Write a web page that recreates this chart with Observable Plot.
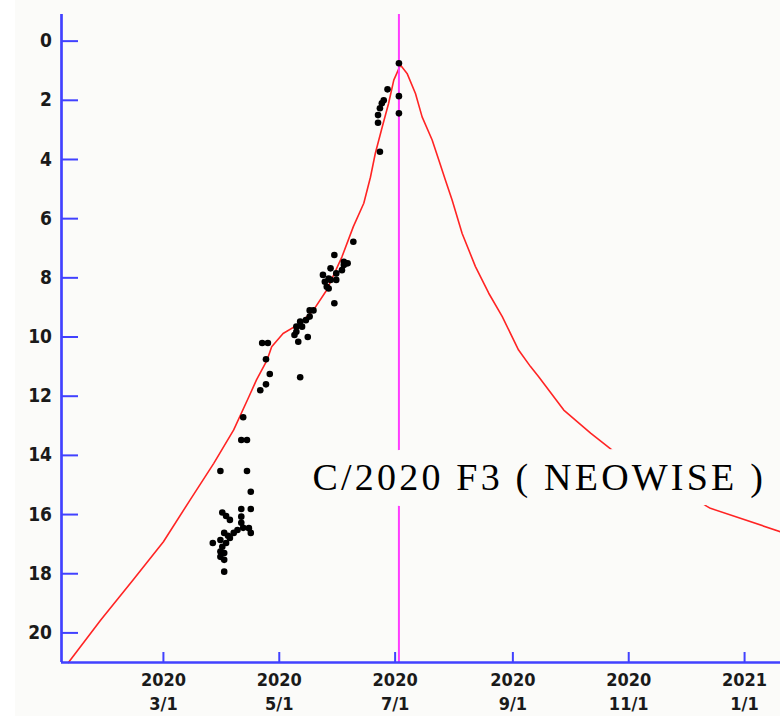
<!DOCTYPE html>
<html>
<head>
<meta charset="utf-8">
<script src="https://cdn.jsdelivr.net/npm/d3@7"></script>
<script src="https://cdn.jsdelivr.net/npm/@observablehq/plot@0.6"></script>
<style>
html, body { margin: 0; padding: 0; background: #ffffff; }
#chart svg { display: block; }
</style>
</head>
<body>
<div id="chart"></div>
<script>
// ---- Data ----
const curveDates = ["2020-01-11","2020-01-28","2020-02-14","2020-03-01","2020-03-15","2020-03-27T12:00Z","2020-04-07","2020-04-15","2020-04-19","2020-04-24T14:00Z","2020-04-27","2020-05-03","2020-05-12","2020-05-19","2020-05-26","2020-06-03","2020-06-09","2020-06-14T12:00Z","2020-06-18","2020-06-20T14:00Z","2020-06-24T05:00Z","2020-06-27T14:00Z","2020-06-30T07:00Z","2020-07-03T19:00Z","2020-07-07T07:00Z","2020-07-11T17:00Z","2020-07-15T05:00Z","2020-07-20T12:00Z","2020-07-24","2020-07-27T12:00Z","2020-07-31","2020-08-05T07:00Z","2020-08-12T07:00Z","2020-08-19T07:00Z","2020-08-26T10:00Z","2020-09-04","2020-09-10T07:00Z","2020-09-14T14:00Z","2020-09-27T19:00Z","2020-10-11T22:00Z","2020-10-23T07:00Z","2020-12-14","2021-01-19T22:00Z"];
const curveMags = [21.0,19.56,18.21,16.92,15.51,14.27,13.14,12.02,11.45,10.78,10.33,9.88,9.54,9.09,8.41,7.29,6.27,5.48,4.6,3.79,2.9,2.1,1.32,0.81,1.09,1.77,2.56,3.34,4.02,4.70,5.37,6.50,7.62,8.52,9.31,10.44,11.0,11.34,12.47,13.25,13.82,15.79,16.58];

const obsDates = [
  "2020-04-01","2020-04-03","2020-04-05","2020-04-11","2020-04-16","2020-04-11","2020-04-11","2020-04-12","2020-04-15","2020-04-16",
  "2020-04-09","2020-04-07","2020-04-04","2020-04-02","2020-03-31","2020-03-27","2020-04-03","2020-04-05","2020-04-01","2020-03-31",
  "2020-04-02","2020-03-31","2020-04-02","2020-04-02","2020-04-16","2020-04-14","2020-03-31","2020-04-11","2020-04-14","2020-04-12",
  "2020-04-22","2020-04-25","2020-04-24","2020-04-26","2020-04-24","2020-04-21","2020-05-12","2020-05-09","2020-05-11","2020-05-16",
  "2020-05-12","2020-05-15","2020-05-10","2020-05-17","2020-05-19","2020-05-30","2020-05-26","2020-05-28","2020-05-24","2020-05-31",
  "2020-05-28","2020-05-30","2020-06-04","2020-06-06","2020-06-03","2020-06-09","2020-05-27","2020-05-31","2020-05-25","2020-05-27",
  "2020-06-04","2020-05-10","2020-05-13","2020-05-17",
  "2020-07-03","2020-06-27","2020-06-25","2020-06-24","2020-06-23","2020-06-22","2020-06-22","2020-07-03","2020-07-03","2020-06-23"
];
const obsMags = [
  15.93,16.05,16.18,15.81,15.81,16.07,16.28,16.45,16.46,16.62,
  16.52,16.62,16.72,16.62,16.86,16.96,16.96,16.79,17.09,17.25,
  17.30,17.43,17.53,17.93,15.23,14.53,14.53,13.48,13.48,12.71,
  10.2,10.2,10.75,11.25,11.6,11.8,11.36,9.93,10.16,10.0,
  9.48,9.43,9.65,9.1,9.1,8.86,8.3,8.07,7.9,8.07,
  7.68,7.23,7.57,7.51,7.74,6.78,8.02,7.85,8.13,8.36,
  7.46,9.82,9.65,9.31,
  0.75,1.63,2.0,2.1,2.27,2.5,2.76,1.86,2.44,3.74
];

const yTicks = [0,2,4,6,8,10,12,14,16,18,20];
const xTicks = ["2020-03-01","2020-05-01","2020-07-01","2020-09-01","2020-11-01","2021-01-01"];
const perihelion = ["2020-07-03"];
const labelText = "C/2020 F3 ( NEOWISE )";
const labelDate = "2020-05-18T12:00Z";
const labelMag = 14.76;
const xDomain = ["2020-01-07T08:00Z","2021-01-19T22:00Z"];
const yDomain = [-0.9, 21];

// ---- Build tables ----
const curve = curveDates.map((d, i) => ({date: new Date(d), mag: curveMags[i]}));
const obs = obsDates.map((d, i) => ({date: new Date(d), mag: obsMags[i]}));
const label = [{date: new Date(labelDate), mag: labelMag, text: labelText}];

const BLUE = "#4141ff";
const BG = "#fbfbf9";
const axisFont = {fontFamily: "'DejaVu Sans Condensed', 'DejaVu Sans', sans-serif", fontWeight: "bold"};
const fmt = d => `${d.getUTCFullYear()}\n${d.getUTCMonth() + 1}/${d.getUTCDate()}`;

const chart = Plot.plot({
  width: 780,
  height: 716,
  marginLeft: 61,
  marginRight: 0,
  marginTop: 14,
  marginBottom: 54,
  style: {background: `linear-gradient(to right, #ffffff 15px, ${BG} 15px)`},
  x: {type: "utc", domain: xDomain.map(d => new Date(d))},
  y: {domain: yDomain, reverse: true},
  marks: [
    Plot.line(curve, {x: "date", y: "mag", stroke: "#ff2424", strokeWidth: 1.6}),
    Plot.ruleX(perihelion.map(d => new Date(d)), {stroke: "#ff3cff", strokeWidth: 2}),
    Plot.dot(obs, {x: "date", y: "mag", r: 3.3, fill: "#000000"}),
    Plot.text(label, {x: "date", y: "mag", text: "text", textAnchor: "start", lineAnchor: "middle",
      fontSize: 38, fontFamily: "'Liberation Serif', 'Times New Roman', serif", fill: "#000000",
      stroke: BG, strokeWidth: 32, strokeLinejoin: "round", paintOrder: "stroke"}),
    Plot.axisY(yTicks, {anchor: "left", tickSize: -17, tickPadding: 26.5, stroke: BLUE, strokeWidth: 2,
      fill: "#1a1a1a", label: null, fontSize: 19, ...axisFont}),
    Plot.axisX(xTicks.map(d => new Date(d)), {anchor: "bottom", tickSize: -10, tickPadding: 17, tickFormat: fmt,
      stroke: BLUE, strokeWidth: 2, fill: "#1a1a1a", label: null, fontSize: 18, lineHeight: 1.32, ...axisFont}),
    Plot.ruleX([new Date(xDomain[0])], {stroke: BLUE, strokeWidth: 2.7}),
    Plot.ruleY([yDomain[1]], {stroke: BLUE, strokeWidth: 2.7})
  ]
});

chart.querySelectorAll("text").forEach(t => {
  if (t.textContent === labelText) {
    t.style.letterSpacing = "3.2px";
    t.style.fontWeight = "500";
  }
});
document.getElementById("chart").appendChild(chart);
</script>
</body>
</html>
